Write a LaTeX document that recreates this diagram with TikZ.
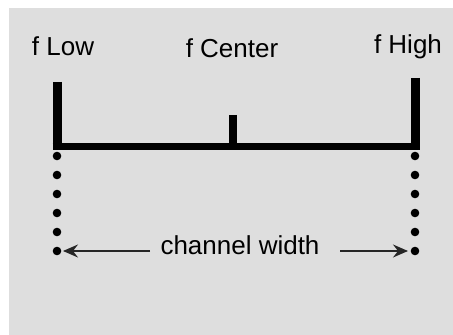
\documentclass[tikz,border=0pt]{standalone}
\usepackage{fontspec}
\setmainfont{Liberation Sans}
\usepackage{xcolor}
\usetikzlibrary{arrows.meta}
\definecolor{panel}{HTML}{DEDEDE}
\tikzset{
  lbl/.style={anchor=base,font=\fontsize{26}{28}\selectfont,inner sep=0pt},
  bar/.style={line width=9pt},
  dot/.style={fill=black,radius=4.3pt},
  widtharrow/.style={line width=1.4pt,draw=black!85,-{Stealth[length=15pt,width=13pt,inset=5pt]}}
}
\begin{document}
\begin{tikzpicture}[x=1pt,y=1pt]
      \useasboundingbox (0,0) rectangle (453,335);
      \fill[panel] (9,0) rectangle (453,327);
      \node[lbl] (fL) at (63,279) {f Low};
      \node[lbl] (fC) at (232,277) {f Center};
      \node[lbl] (fH) at (408,281) {f High};
      \node[lbl] (cw) at (240,80) {channel width};
      \coordinate (Ltop) at (57,253);
      \coordinate (Lbot) at (57,188);
      \coordinate (Ctop) at (233,220);
      \coordinate (Cbot) at (233,188);
      \coordinate (Rtop) at (415,257);
      \coordinate (Rbot) at (415,188);
      \coordinate (Lend) at (57,84);
      \coordinate (Rend) at (415,84);
      \coordinate (La) at (150,84);
      \coordinate (Ra) at (340,84);
        % bars
      \draw[bar] (Ltop) -- (Lbot);
      \draw[bar] (Rtop) -- (Rbot);
      \draw[line width=8pt] (Ctop) -- (Cbot);
      \draw[line width=7pt] ([xshift=-4.5pt]Lbot) -- ([xshift=4.5pt]Rbot);
        % dotted guides
      \foreach \y in {179,160,141,122,103,84} {
        \fill[dot] (57,\y) circle;
        \fill[dot] (415,\y) circle;
      }
      \draw[widtharrow,shorten >=6pt] (La) -- (Lend);
      \draw[widtharrow,shorten >=7pt] (Ra) -- (Rend);
    \end{tikzpicture}
\end{document}
